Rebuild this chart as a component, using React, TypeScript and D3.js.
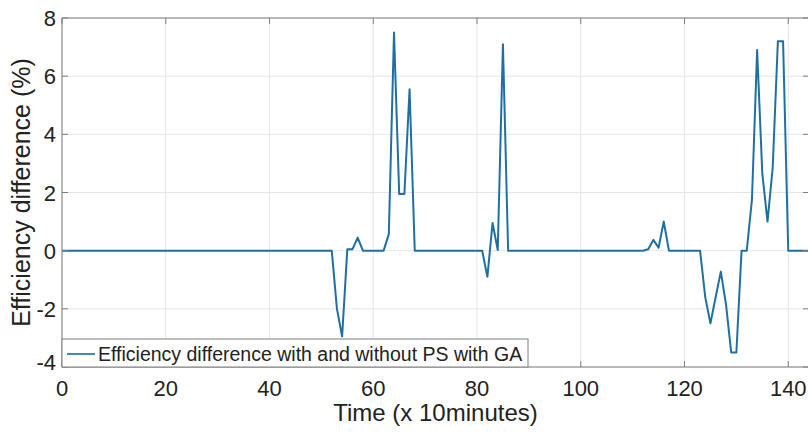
import React from "react";
import * as d3 from "d3";

// Efficiency difference (%) at each time step t = 0..144 (x 10 minutes)
const efficiencyDiff: number[] = [
  0, 0, 0, 0, 0, 0, 0, 0, 0, 0,
  0, 0, 0, 0, 0, 0, 0, 0, 0, 0,
  0, 0, 0, 0, 0, 0, 0, 0, 0, 0,
  0, 0, 0, 0, 0, 0, 0, 0, 0, 0,
  0, 0, 0, 0, 0, 0, 0, 0, 0, 0,
  0, 0, 0, -2.0, -2.95, 0.05, 0.05, 0.45, 0, 0,
  0, 0, 0, 0.57, 7.5, 1.95, 1.95, 5.55, 0, 0,
  0, 0, 0, 0, 0, 0, 0, 0, 0, 0,
  0, 0, -0.9, 0.95, 0.02, 7.1, 0, 0, 0, 0,
  0, 0, 0, 0, 0, 0, 0, 0, 0, 0,
  0, 0, 0, 0, 0, 0, 0, 0, 0, 0,
  0, 0, 0, 0.05, 0.37, 0.1, 1.0, 0, 0, 0,
  0, 0, 0, 0, -1.6, -2.5, -1.6, -0.72, -1.85, -3.5,
  -3.5, 0, 0, 1.75, 6.9, 2.65, 1.0, 2.85, 7.2, 7.2,
  0, 0, 0, 0, 0,
];
const timeSteps: number[] = efficiencyDiff.map((_, i) => i);

const xTicks: number[] = [0, 20, 40, 60, 80, 100, 120, 140];
const yTicks: number[] = [-4, -2, 0, 2, 4, 6, 8];

const seriesLabel = "Efficiency difference with and without PS with GA";
const xLabel = "Time (x 10minutes)";
const yLabel = "Efficiency difference (%)";

const W = 808;
const H = 433;
const left = 62;
const right = 809;
const top = 18;
const bottom = 367;

const lineColor = "#1f70a2";
const legendLineColor = "#3f8cb0";
const axisColor = "#7f7f7f";
const gridColor = "#e6e6e6";
const font = "'Liberation Sans', Arial, sans-serif";

export default function App() {
  const x = d3.scaleLinear().domain([0, 144]).range([left, right]);
  const y = d3.scaleLinear().domain([-4, 8]).range([bottom, top]);

  const line = d3
    .line<number>()
    .x((_, i) => x(timeSteps[i]))
    .y((d) => y(d));

  const tickLen = 6;

  return (
    <svg
      width={W}
      height={H}
      style={{ position: "absolute", left: 0, top: 0, background: "#fff" }}
    >
      <rect x={0} y={0} width={W} height={H} fill="#fff" />
      {/* grid */}
      {xTicks.map((t) => (
        <line key={"gx" + t} x1={x(t)} x2={x(t)} y1={top} y2={bottom} stroke={gridColor} strokeWidth={1} />
      ))}
      {yTicks.map((t) => (
        <line key={"gy" + t} x1={left} x2={right} y1={y(t)} y2={y(t)} stroke={gridColor} strokeWidth={1} />
      ))}

      {/* data line */}
      <path d={line(efficiencyDiff) || ""} fill="none" stroke={lineColor} strokeWidth={2} strokeLinejoin="round" />

      {/* axes box */}
      <line x1={left} x2={right} y1={top} y2={top} stroke={axisColor} strokeWidth={1} />
      <line x1={left} x2={right} y1={bottom} y2={bottom} stroke={axisColor} strokeWidth={1} />
      <line x1={left} x2={left} y1={top} y2={bottom} stroke={axisColor} strokeWidth={1} />

      {/* ticks */}
      {xTicks.map((t) => (
        <g key={"tx" + t}>
          <line x1={x(t)} x2={x(t)} y1={bottom} y2={bottom - tickLen} stroke={axisColor} />
          <line x1={x(t)} x2={x(t)} y1={top} y2={top + tickLen} stroke={axisColor} />
          <text x={x(t)} y={396} textAnchor="middle" fontFamily={font} fontSize={22} fill="#222">
            {t}
          </text>
        </g>
      ))}
      {yTicks.map((t) => (
        <g key={"ty" + t}>
          <line x1={left} x2={left + tickLen} y1={y(t)} y2={y(t)} stroke={axisColor} />
          <line x1={right} x2={right - tickLen} y1={y(t)} y2={y(t)} stroke={axisColor} />
          <text
            x={56}
            y={y(t) + 8 - (t === -4 ? 5 : 0)}
            textAnchor="end"
            fontFamily={font}
            fontSize={22}
            fill="#222"
          >
            {t}
          </text>
        </g>
      ))}

      {/* legend */}
      <rect x={left} y={339} width={466} height={bottom - 339} fill="#fff" stroke={axisColor} strokeWidth={1} />
      <line x1={67} x2={95} y1={354} y2={354} stroke={legendLineColor} strokeWidth={2} />
      <text x={98} y={361} fontFamily={font} fontSize={19.5} fill="#222">
        {seriesLabel}
      </text>

      {/* axis labels */}
      <text x={(left + right) / 2} y={421} textAnchor="middle" fontFamily={font} fontSize={24} fill="#222">
        {xLabel}
      </text>
      <text
        transform={`translate(30, ${(top + bottom) / 2}) rotate(-90)`}
        textAnchor="middle"
        fontFamily={font}
        fontSize={25}
        fill="#222"
      >
        {yLabel}
      </text>
    </svg>
  );
}
